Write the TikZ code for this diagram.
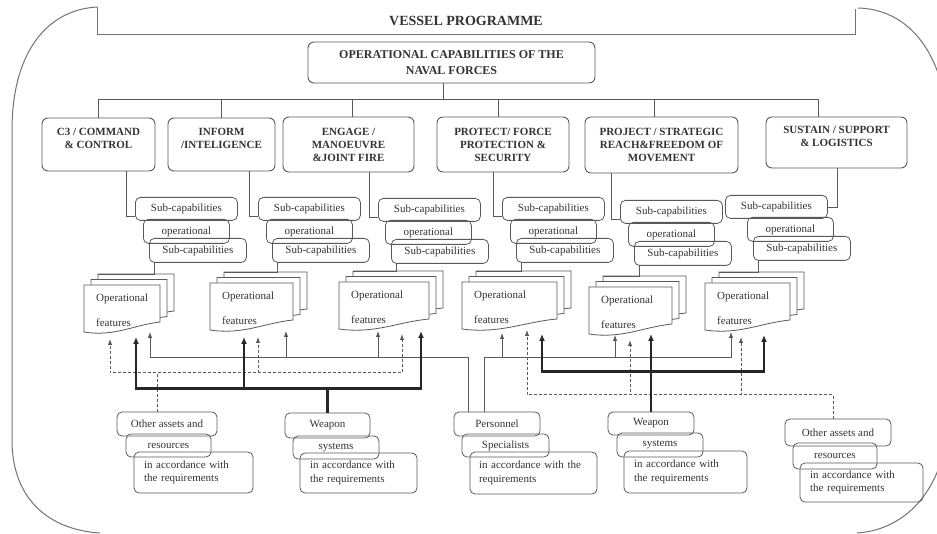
\documentclass[tikz,border=0pt]{standalone}
\usepackage{fontspec}
\setmainfont{Liberation Serif}
\usetikzlibrary{arrows.meta, calc}

\tikzset{
  frame/.style={draw=black!55, line width=1pt},
  capbox/.style={draw=black!65, line width=0.9pt, rounded corners=6pt, align=center,
                 inner sep=0pt, text=black!80, font=\fontsize{11}{13}\selectfont\bfseries},
  subbox/.style={draw=black!65, line width=0.8pt, rounded corners=5pt, inner sep=0pt,
                 text=black!80, font=\fontsize{11}{13.5}\selectfont},
  resbox/.style={subbox},
  notebox/.style={subbox, align=left},
  sheet/.style={draw=black!65, line width=0.8pt, fill=white},
  doctext/.style={anchor=north west, align=left, inner sep=0pt, text=black!80,
                  font=\fontsize{11}{13.5}\selectfont},
  link/.style={draw=black!65, line width=0.8pt},
  thinarrow/.style={link, -{Latex[length=6pt,width=4.5pt]}},
  heavyarrow/.style={draw=black!85, line width=2.4pt, -{Latex[length=7pt,width=6pt]}},
  dasharrow/.style={draw=black!65, line width=1pt, dash pattern=on 3pt off 2pt,
                    -{Latex[length=6pt,width=4.5pt]}},
}

\begin{document}
\begin{tikzpicture}[x=1pt, y=-1pt]
    \useasboundingbox (0,0) rectangle (937,534);
    \clip (0,0) rectangle (937,534);

    % outer frame
    \draw[frame] (97,7) -- (97,35) -- (855,35) -- (855,9);
    \draw[frame] (97,7) .. controls (45,10) and (12,55) .. (12,130) -- (12,440)
      .. controls (12,500) and (50,530) .. (100,533);
    \draw[frame] (858,8) .. controls (900,9) and (940,40) .. (948,120) -- (948,420)
      .. controls (945,490) and (905,530) .. (857,533);
    \node[font=\fontsize{14}{16}\selectfont\bfseries, text=black!80] (title) at (466,21) {VESSEL PROGRAMME};

    % capabilities
    \node[capbox, font=\fontsize{12}{16}\selectfont\bfseries, minimum width=287pt, minimum height=41pt]
      (ocap) at (451.5,62.5) {OPERATIONAL CAPABILITIES OF THE\\NAVAL FORCES};
    \node[capbox, minimum width=113pt, minimum height=53pt, text depth=13pt] (c1) at (98.5,144.5) {C3 / COMMAND\\\& CONTROL};
    \node[capbox, minimum width=107pt, minimum height=53pt, text depth=13pt] (c2) at (221.5,144.5) {INFORM\\/INTELIGENCE};
    \node[capbox, minimum width=131pt, minimum height=55pt] (c3) at (348.5,144.5) {ENGAGE /\\MANOEUVRE\\\&JOINT FIRE};
    \node[capbox, minimum width=132pt, minimum height=55pt] (c4) at (503,144.5) {PROTECT/ FORCE\\PROTECTION \&\\SECURITY};
    \node[capbox, minimum width=153pt, minimum height=56pt] (c5) at (661.5,145) {PROJECT / STRATEGIC\\REACH\&FREEDOM OF\\MOVEMENT};
    \node[capbox, minimum width=141pt, minimum height=51pt, text depth=13pt] (c6) at (836.5,142.5) {SUSTAIN / SUPPORT\\\& LOGISTICS};

    \coordinate (hub) at (443,99);
    \draw[link] (hub) -- (hub |- ocap.south);
    \foreach \i/\x in {1/98, 2/221, 3/352, 4/498, 5/654, 6/818} {
      \coordinate (k\i) at (\x,99);
      \draw[link] (k\i) -- (k\i |- c\i.north);
    }
    \draw[link] (k1) -- (k6);

    % sub-capabilities
    \foreach \g/\x/\y/\o in {1/135/197/8, 2/258/197/8, 3/378/198/7, 4/502/197/8, 5/620/200/8, 6/725/195/22} {
      \node[subbox, minimum width=102pt, minimum height=23pt, anchor=north west] (sa\g) at (\x,\y) {Sub-capabilities};
      \node[subbox, minimum width=86pt, minimum height=24pt, anchor=north west] (so\g) at (\x+\o,\y+22) {operational};
      \node[subbox, minimum width=97pt, minimum height=24pt, anchor=north west] (sb\g) at (\x+\o+6,\y+41) {Sub-capabilities};
    }
    \foreach \g in {1,...,5} {
      \coordinate (e\g) at ($(sa\g.west)+(-9,8)$);
      \draw[link] ($(sa\g.west)+(0,8)$) -- (e\g) -- (e\g |- c\g.south);
    }
    \coordinate (e6) at ($(sa6.east)+(10,1)$);
    \draw[link] ($(sa6.east)+(0,1)$) -- (e6) -- (e6 |- c6.south);

    % operational features
    \foreach \n/\xa/\xb/\ya in {d1/84/160/285, d2/210/293/283, d3/339/429/282,
                                d4/462/557/282, d5/589/672/287, d6/705/790/283} {
      \foreach \s in {2,1,0} {
        \pgfmathsetmacro{\sheetL}{\xa+7*\s}
        \pgfmathsetmacro{\sheetR}{\xb+7*\s}
        \pgfmathsetmacro{\sheetT}{\ya-5.5*\s}
        \draw[sheet] (\sheetL,\sheetT) -- (\sheetR,\sheetT) -- (\sheetR,\sheetT+37)
          .. controls (\sheetR-0.35*\xb+0.35*\xa,\sheetT+40) and (\sheetL+0.4*\xb-0.4*\xa,\sheetT+52) .. (\sheetL,\sheetT+47) -- cycle;
      }
      \node[doctext] (\n) at (\xa+12,\ya+9) {Operational\\[11pt]features};
      \coordinate (\n-back) at (\xa+14,\ya-11);
    }
    \foreach \g in {1,...,6}
      \draw[link] ($(sb\g.south west)+(5,0)$) |- (d\g-back);

    % resources
    \node[resbox, minimum width=100pt, minimum height=24pt] (o1a) at (167,424) {Other assets and};
    \node[resbox, minimum width=85pt, minimum height=23pt] (o1b) at (168.5,445.5) {resources};
    \node[notebox, minimum width=119pt, minimum height=41pt, text width=99pt] (o1c) at (193.5,472.5) {in accordance with\\the requirements};

    \node[resbox, minimum width=85pt, minimum height=25pt] (w1a) at (327.5,425.5) {Weapon};
    \node[resbox, minimum width=86pt, minimum height=23pt] (w1b) at (336,447.5) {systems};
    \node[notebox, minimum width=117pt, minimum height=40pt, text width=97pt] (w1c) at (358.5,473) {in accordance with\\the requirements};

    \node[resbox, minimum width=86pt, minimum height=24pt] (pa) at (497,424) {Personnel};
    \node[resbox, minimum width=87pt, minimum height=23pt] (pb) at (505.5,445.5) {Specialists};
    \node[notebox, minimum width=127pt, minimum height=42pt, text width=109pt] (pc) at (533.5,473) {in accordance with the\\requirements};

    \node[resbox, minimum width=86pt, minimum height=23pt] (w2a) at (651,423.5) {Weapon};
    \node[resbox, minimum width=86pt, minimum height=24pt] (w2b) at (660,445) {systems};
    \node[notebox, minimum width=123pt, minimum height=42pt, text width=103pt] (w2c) at (685.5,472) {in accordance with\\the requirements};

    \node[resbox, minimum width=106pt, minimum height=27pt] (o2a) at (838,432.5) {Other assets and};
    \node[resbox, minimum width=84pt, minimum height=26pt] (o2b) at (835,456) {resources};
    \node[notebox, minimum width=123pt, minimum height=39pt, text width=103pt] (o2c) at (861.5,482.5) {in accordance with\\the requirements};

    % arrow tips under the features
    \foreach \n/\x/\y in {t1a/110/339, t1b/136/337, t1c/150/332, t2a/244/337, t2b/258/337, t2c/286/331,
                          t3a/378/331, t3b/402/334, t3c/421/331, t4a/502/333, t4b/527/330, t4c/542/334,
                          t5a/615/335, t5b/630/340, t5c/651/334, t6a/731/332, t6b/741/337, t6c/764/335}
      \coordinate (\n) at (\x,\y);

    \coordinate (pl) at ($(pa.north)+(-29,0)$);
    \coordinate (pr) at ($(pa.north)+(-13,0)$);
    \coordinate (ol) at ($(o1a.north)+(-10,0)$);
    \coordinate (or) at ($(o2a.north)+(-5,0)$);

    \foreach \tip in {t1c,t2c,t3a} \draw[thinarrow] (pl) -- ++(0,-54) -| (\tip);
    \foreach \tip in {t4a,t5a,t6a} \draw[thinarrow] (pr) -- ++(0,-54) -| (\tip);
    \foreach \tip in {t1a,t2b,t3b} \draw[dasharrow] (ol) -- ++(0,-39) -| (\tip);
    \foreach \tip in {t4b,t5b,t6b} \draw[dasharrow] (or) -- ++(0,-24) -| (\tip);
    \foreach \tip in {t1b,t2a,t3c} \draw[heavyarrow] (w1a.north) -- ++(0,-24) -| (\tip);
    \draw[heavyarrow] (w2a.north) -- (t5c);
    \foreach \tip in {t4c,t6c} \draw[heavyarrow] (w2a.north) -- ++(0,-40) -| (\tip);
\end{tikzpicture}
\end{document}
